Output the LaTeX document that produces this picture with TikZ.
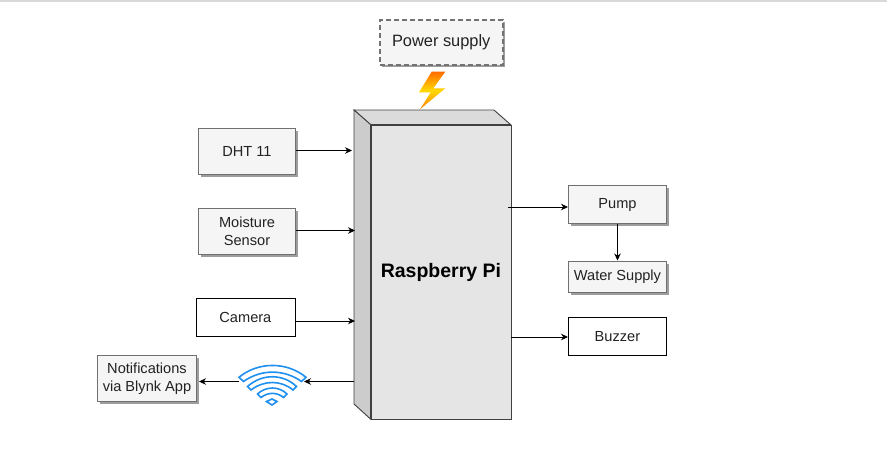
\documentclass[tikz,border=0pt]{standalone}
\usepackage{fontspec}
\setmainfont{Liberation Sans}
\usetikzlibrary{shadows,arrows.meta,shadings}
\definecolor{boxfill}{HTML}{F5F5F5}
\definecolor{boxline}{HTML}{707070}
\definecolor{txt}{HTML}{222222}
\definecolor{wifiblue}{HTML}{2090F0}
\tikzset{
  x=1pt,y=-1pt,
  base/.style={rectangle,inner sep=0pt,align=center,font=\fontsize{14.6}{18}\selectfont,text=txt,anchor=north west},
  grey/.style={base,draw=boxline,line width=1pt,fill=boxfill,drop shadow={shadow xshift=2pt,shadow yshift=-2.5pt,fill=black!55,opacity=0.7}},
  plain/.style={base,draw=black,line width=0.8pt,fill=white},
  link/.style={draw=black,line width=0.7pt,-{Stealth[length=7pt,width=6.5pt]}},
  band/.style={draw=wifiblue,line width=1.6pt,fill=white,line join=miter},
}
\begin{document}
\begin{tikzpicture}
\useasboundingbox (0,0) rectangle (887,451);
\fill[black!15] (0,0) rectangle (887,2);
% Raspberry Pi block
\path[draw=black!75,line width=0.9pt,fill=black!14] (354,110) -- (494,110) -- (510.5,124.5) -- (370.5,124.5) -- cycle;
\path[draw=black!75,line width=0.9pt,fill=black!20] (354,110) -- (370.5,124.5) -- (370.5,419) -- (354,404) -- cycle;
\node[draw=black!75,line width=0.9pt,fill=black!10,anchor=north west,minimum width=140pt,minimum height=294.5pt,inner sep=0pt,font=\bfseries\fontsize{19.5}{21}\selectfont,text=black] (pi) at (370.5,124.5) {\raisebox{-6pt}{Raspberry Pi}};
% Power
\node[grey,dash pattern=on 5pt off 3pt,line width=1.5pt,draw=black!55,minimum width=123pt,minimum height=45pt,font=\fontsize{16.4}{19}\selectfont] (power) at (379,19) {Power supply};
\shade[top color=orange!85!red,bottom color=orange,middle color=yellow!70!orange]
  (445.3,71.7) -- (431.7,71.7) -- (419,92.3) -- (430.7,92.3) -- (420,109.3) -- (445.3,88.3) -- (433.3,88.3) -- cycle;
% Left
\node[grey,minimum width=97pt,minimum height=46pt] (dht) at (198,128) {DHT 11};
\node[grey,minimum width=97pt,minimum height=46pt] (moist) at (198,207.5) {Moisture\\Sensor};
\node[plain,minimum width=99pt,minimum height=38pt] (cam) at (195.5,298) {Camera};
\node[grey,minimum width=99pt,minimum height=46pt] (notif) at (97,355) {Notifications\\via Blynk App};
% Right
\node[grey,minimum width=98pt,minimum height=38pt] (pump) at (568,185) {Pump};
\node[grey,minimum width=98pt,minimum height=31pt] (water) at (568,260.5) {\raisebox{-1pt}{Water Supply}};
\node[plain,minimum width=98pt,minimum height=38pt] (buzz) at (568,317) {Buzzer};
% Wifi
\path[band] (239,377.3) .. controls (258,361.5) and (287,361.5) .. (306,377.3) -- (301.5,381.5) .. controls (284,369) and (261,369) .. (243.5,381.5) -- cycle;
\path[band] (247.5,386.5) .. controls (262,373.5) and (283,373.5) .. (296.5,386.5) -- (293,390) .. controls (281,380) and (264,380) .. (251,390) -- cycle;
\path[band] (257.5,394) .. controls (266,386) and (279,386) .. (287,394) -- (283.5,397.5) .. controls (277,392) and (268,392) .. (261,397.5) -- cycle;
\path[band] (266.5,401.5) -- (272,399) -- (277,401.5) -- (272,405) -- cycle;
\coordinate (wifiL) at (239,381.5);
\coordinate (wifiR) at (304,381.5);
% Named ends on the block's faces
\coordinate (piD) at (352,150.5);
\coordinate (piM) at (355,230.5);
\coordinate (piC) at (355,321);
\coordinate (piN) at (354,381.5);
\coordinate (piP) at (508,207);
\coordinate (piB) at (511,337);
% Connectors
\draw[link] (dht.east |- piD) -- (piD);
\draw[link] (moist.east |- piM) -- (piM);
\draw[link] (cam.east |- piC) -- (piC);
\draw[link] (piN) -- (wifiR);
\draw[link,shorten >=2pt] (wifiL) -- (notif.east |- wifiL);
\draw[link] (piP) -- (pump.west |- piP);
\draw[link] (piB) -- (buzz.west |- piB);
\draw[link] (pump.south) -- (water.north);
\end{tikzpicture}
\end{document}
